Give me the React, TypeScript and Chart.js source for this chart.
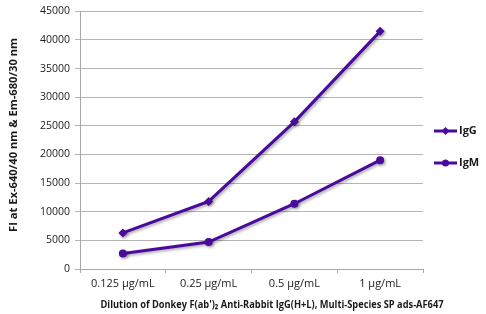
import React, { useEffect, useRef } from 'react';
import { Chart, registerables } from 'chart.js';

Chart.register(...registerables);

const categories = ['0.125 µg/mL', '0.25 µg/mL', '0.5 µg/mL', '1 µg/mL'];
const iggValues = [6300, 11800, 25700, 41500];
const igmValues = [2700, 4700, 11400, 19000];
const seriesNames = ['IgG', 'IgM'];
const yMax = 45000;
const yStep = 5000;
const xTitle = "Dilution of Donkey F(ab')\u2082 Anti-Rabbit IgG(H+L), Multi-Species SP ads-AF647";
const yTitle = 'FI at Ex-640/40 nm & Em-680/30 nm';

const PURPLE = '#4a0a9c';
const FONT = '"Open Sans", "Noto Sans", sans-serif';

function fitText(ctx: CanvasRenderingContext2D, text: string, cx: number, cy: number, targetW: number, rotate: boolean) {
  ctx.save();
  ctx.translate(cx, cy);
  if (rotate) ctx.rotate(-Math.PI / 2);
  const w = ctx.measureText(text).width;
  ctx.scale(targetW / w, 1);
  ctx.textAlign = 'center';
  ctx.textBaseline = 'middle';
  ctx.fillText(text, 0, 0);
  ctx.restore();
}

const decorPlugin = {
  id: 'decor',
  beforeDatasetDraw(chart: any) {
    const ctx = chart.ctx;
    ctx.save();
    ctx.shadowColor = 'rgba(0,0,0,0.35)';
    ctx.shadowBlur = 3;
    ctx.shadowOffsetX = 1.5;
    ctx.shadowOffsetY = 1.5;
  },
  afterDatasetDraw(chart: any) {
    chart.ctx.restore();
  },
  afterDraw(chart: any) {
    const ctx = chart.ctx as CanvasRenderingContext2D;
    ctx.save();
    ctx.fillStyle = '#1a1a1a';
    ctx.font = `bold 11px ${FONT}`;
    fitText(ctx, xTitle, 272, 305, 343, false);
    fitText(ctx, yTitle, 14, 135, 194, true);

    const ys = [131, 163];
    seriesNames.forEach((name, i) => {
      const y = ys[i];
      ctx.strokeStyle = PURPLE;
      ctx.lineWidth = 3;
      ctx.beginPath();
      ctx.moveTo(434, y);
      ctx.lineTo(457, y);
      ctx.stroke();
      ctx.fillStyle = PURPLE;
      ctx.beginPath();
      const cx = 445.5;
      if (i === 0) {
        ctx.moveTo(cx, y - 4);
        ctx.lineTo(cx + 4, y);
        ctx.lineTo(cx, y + 4);
        ctx.lineTo(cx - 4, y);
        ctx.closePath();
      } else {
        ctx.arc(cx, y, 3.5, 0, Math.PI * 2);
      }
      ctx.fill();
      ctx.fillStyle = '#1a1a1a';
      ctx.font = `bold 11px ${FONT}`;
      ctx.textAlign = 'left';
      ctx.textBaseline = 'middle';
      ctx.fillText(name, 459, y);
    });
    ctx.restore();
  },
};

export default function App() {
  const ref = useRef<HTMLCanvasElement>(null);
  useEffect(() => {
    if (!ref.current) return;
    const chart = new Chart(ref.current, {
      type: 'line',
      data: {
        labels: categories,
        datasets: [
          {
            label: seriesNames[0],
            data: iggValues,
            borderColor: PURPLE,
            backgroundColor: PURPLE,
            borderWidth: 3,
            pointStyle: 'rectRot',
            pointRadius: 4.5,
            pointBorderWidth: 0,
            tension: 0,
          },
          {
            label: seriesNames[1],
            data: igmValues,
            borderColor: PURPLE,
            backgroundColor: PURPLE,
            borderWidth: 3,
            pointStyle: 'circle',
            pointRadius: 4,
            pointBorderWidth: 0,
            tension: 0,
          },
        ],
      },
      options: {
        responsive: true,
        maintainAspectRatio: false,
        animation: false,
        layout: { padding: { left: 0, right: 63, top: 11, bottom: 0 } },
        plugins: { legend: { display: false }, tooltip: { enabled: false } },
        scales: {
          x: {
            offset: true,
            grid: { display: true, drawOnChartArea: false, drawTicks: true, tickLength: 4, offset: true, color: '#a8a8a8' },
            border: { color: '#a8a8a8', width: 1 },
            ticks: { color: '#222', font: { family: FONT, size: 11 }, padding: 4, maxRotation: 0 },
            afterFit: (s: any) => { s.height = 45; },
          },
          y: {
            min: 0,
            max: yMax,
            ticks: {
              stepSize: yStep,
              color: '#222',
              font: { family: FONT, size: 10.5 },
              padding: 5,
              callback: (v: any) => String(v),
            },
            grid: { color: '#b4b4b4', tickLength: 5, lineWidth: 1 },
            border: { color: '#a8a8a8', width: 1 },
            afterFit: (s: any) => { s.width = 80; },
          },
        },
      },
      plugins: [decorPlugin],
    });
    return () => chart.destroy();
  }, []);
  return (
    <div style={{ position: 'fixed', left: 0, top: 0, width: 486, height: 314, background: '#fff' }}>
      <canvas ref={ref} />
    </div>
  );
}
